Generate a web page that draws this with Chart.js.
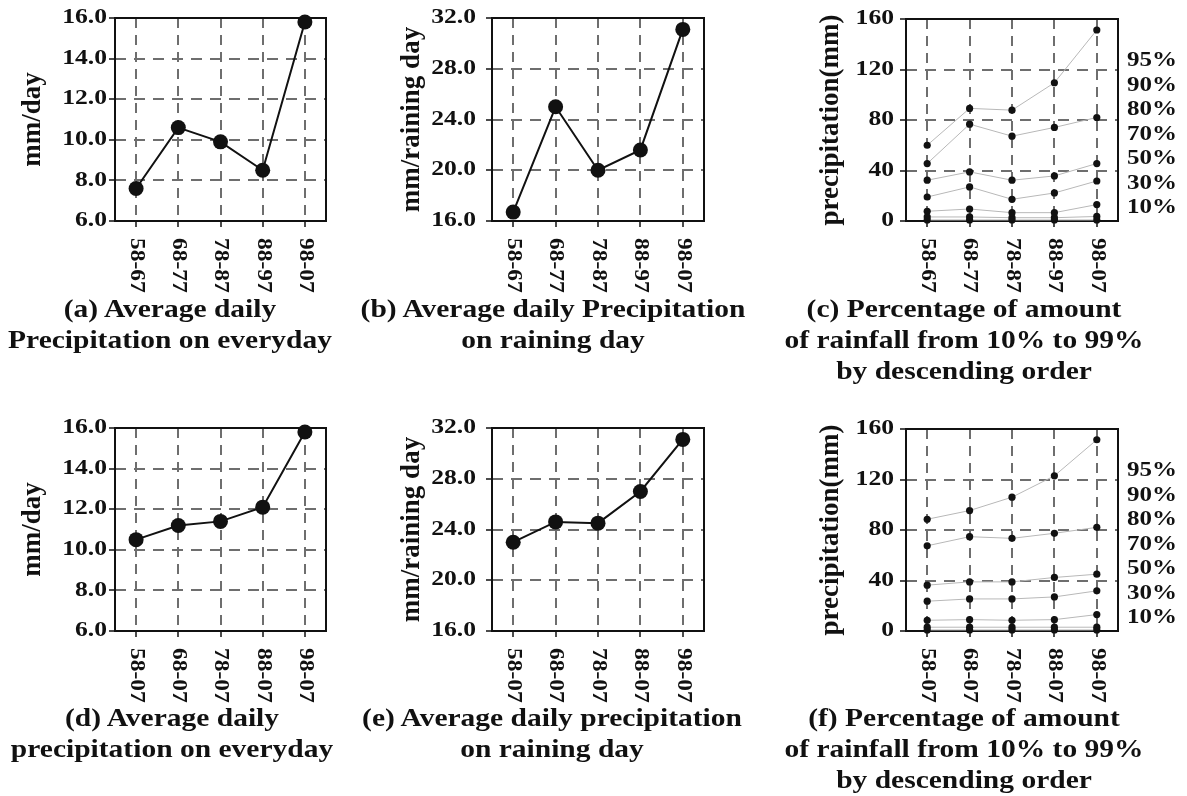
<!DOCTYPE html>
<html>
<head>
<meta charset="utf-8">
<title>Precipitation by period</title>
<script src="https://cdn.jsdelivr.net/npm/chart.js@4.4.0/dist/chart.umd.min.js"></script>
<style>
  body { margin: 0; background: #fff; }
  #page { position: relative; width: 1187px; height: 796px; overflow: hidden; font-family: "Liberation Serif", "Times New Roman", serif; }
  canvas { position: absolute; }
  .cap { position: absolute; font-weight: bold; font-size: 25px; line-height: 31px; white-space: nowrap; text-align: center; color: #111; transform: translateX(-50%) scaleX(1.18); }
</style>
</head>
<body>
<div id="page"></div>
<script>
// categories
const periodsTop = ["58-67", "68-77", "78-87", "88-97", "98-07"];
const periodsBottom = ["58-07", "68-07", "78-07", "88-07", "98-07"];
const pctLabels = ["95%", "90%", "80%", "70%", "50%", "30%", "10%"];

// (a) / (b): per decade
const dailyDecade = [7.6, 10.6, 9.9, 8.5, 15.8];
const rainDayDecade = [16.7, 25.0, 20.0, 21.6, 31.1];

// (d) / (e): from start year to 2007
const dailyCumul = [10.5, 11.2, 11.4, 12.1, 15.8];
const rainDayCumul = [23.0, 24.6, 24.5, 27.0, 31.1];

// (c) percentile amounts, per decade (top line first)
const pctDecade = [
  [60.0, 89.2, 87.8, 109.5, 151.3],
  [45.5, 76.7, 67.2, 74.1, 82.0],
  [32.3, 38.9, 32.3, 35.7, 45.5],
  [19.0, 27.0, 17.2, 22.2, 31.7],
  [7.7, 9.5, 6.6, 6.6, 13.0],
  [3.2, 3.2, 2.6, 2.6, 3.6],
  [0.8, 0.8, 0.8, 0.8, 0.8]
];

// (f) percentile amounts, cumulative periods
const pctCumul = [
  [88.5, 95.4, 106.0, 122.9, 151.5],
  [67.5, 74.7, 73.4, 77.4, 82.1],
  [36.3, 38.9, 38.9, 42.4, 45.0],
  [23.6, 25.4, 25.4, 27.0, 31.8],
  [8.5, 9.0, 8.5, 9.0, 13.0],
  [3.0, 3.0, 3.0, 3.0, 3.0],
  [0.8, 0.8, 0.8, 0.8, 0.8]
];

const SERIF = '"Liberation Serif", "Times New Roman", serif';
const GRID = "#6e6e6e";
const Y_W = 115, X_H = 80, PAD_T = 18;
const page = document.getElementById("page");

function stretchText(ctx, text, x, y, angle, align, sx, size) {
  ctx.save();
  ctx.translate(x, y);
  ctx.rotate(angle);
  ctx.scale(sx, 1);
  ctx.font = "bold " + size + "px " + SERIF;
  ctx.fillStyle = "#111";
  ctx.textAlign = align;
  ctx.textBaseline = "middle";
  ctx.fillText(text, 0, 0);
  ctx.restore();
}

function panelPlugin(p) {
  return {
    id: "panelText",
    beforeDatasetsDraw(chart) {
      const a = chart.chartArea, ctx = chart.ctx;
      ctx.save();
      ctx.strokeStyle = "#111";
      ctx.lineWidth = 2;
      ctx.strokeRect(a.left, a.top, a.right - a.left, a.bottom - a.top);
      ctx.restore();
    },
    afterDraw(chart) {
      const a = chart.chartArea, ctx = chart.ctx;
      const ys = chart.scales.y, xs = chart.scales.x;
      ys.ticks.forEach((t, i) => {
        stretchText(ctx, p.fmt(t.value), a.left - p.tickGap, ys.getPixelForTick(i), 0, "right", 1.28, 20);
      });
      p.labels.forEach((lab, i) => {
        stretchText(ctx, lab, xs.getPixelForValue(i), a.bottom + 17, Math.PI / 2, "left", 1.17, 20);
      });
      if (p.pct) {
        const h = a.bottom - a.top;
        pctLabels.forEach((lab, i) => {
          stretchText(ctx, lab, a.right + 9, a.top + h * (0.207 + i * 0.1217), 0, "left", 1.25, 20);
        });
      }
    }
  };
}

function makePanel(p) {
  const canvas = document.createElement("canvas");
  const left = p.box.l - Y_W, top = p.box.t - PAD_T;
  canvas.width = p.box.r - left + p.extraR;
  canvas.height = p.box.b - top + X_H;
  canvas.style.left = left + "px";
  canvas.style.top = top + "px";
  page.appendChild(canvas);

  const datasets = p.series.map((vals) => p.pct ? {
    data: vals,
    borderColor: "#b8b8b8",
    borderWidth: 1,
    pointRadius: 3.6,
    pointBackgroundColor: "#111",
    pointBorderColor: "#111",
    pointBorderWidth: 0,
    clip: false
  } : {
    data: vals,
    borderColor: "#111",
    borderWidth: 2,
    pointRadius: 7.5,
    pointBackgroundColor: "#111",
    pointBorderColor: "#111",
    pointBorderWidth: 0,
    clip: false
  });

  const gridOpts = { color: GRID, lineWidth: 2, tickLength: 6, tickColor: "#111", tickWidth: 1.5 };

  new Chart(canvas, {
    type: "line",
    data: { labels: p.labels, datasets: datasets },
    options: {
      responsive: false,
      animation: false,
      devicePixelRatio: 1,
      layout: { padding: { top: PAD_T, left: 0, right: p.extraR, bottom: 0 } },
      plugins: { legend: { display: false }, tooltip: { enabled: false } },
      scales: {
        x: {
          offset: true,
          grid: Object.assign({ offset: false }, gridOpts),
          border: { display: false, dash: [10, 7] },
          ticks: { display: false },
          afterFit: (s) => { s.height = X_H; }
        },
        y: {
          min: p.min,
          max: p.max,
          ticks: { display: false, stepSize: p.step },
          grid: gridOpts,
          border: { display: false, dash: [11, 8] },
          title: {
            display: true,
            text: p.title,
            color: "#111",
            font: { family: SERIF, size: 27, weight: "bold" },
            padding: { top: p.titlePad, bottom: 0 }
          },
          afterFit: (s) => { s.width = Y_W; }
        }
      }
    },
    plugins: [panelPlugin(p)]
  });
}

const one = (v) => v.toFixed(1);
const whole = (v) => String(Math.round(v));

const panels = [
  { box: { l: 115, t: 18, r: 326, b: 221 }, extraR: 10, labels: periodsTop, series: [dailyDecade],
    min: 6, max: 16, step: 2, fmt: one, title: "mm/day", titlePad: 17, tickGap: 8 },
  { box: { l: 492, t: 18, r: 704, b: 221 }, extraR: 10, labels: periodsTop, series: [rainDayDecade],
    min: 16, max: 32, step: 4, fmt: one, title: "mm/raining day", titlePad: 19, tickGap: 16 },
  { box: { l: 906, t: 19, r: 1118, b: 221 }, extraR: 69, labels: periodsTop, series: pctDecade, pct: true,
    min: 0, max: 160, step: 40, fmt: whole, title: "precipitation(mm)", titlePad: 24, tickGap: 12 },
  { box: { l: 115, t: 428, r: 326, b: 631 }, extraR: 10, labels: periodsBottom, series: [dailyCumul],
    min: 6, max: 16, step: 2, fmt: one, title: "mm/day", titlePad: 17, tickGap: 8 },
  { box: { l: 492, t: 428, r: 704, b: 631 }, extraR: 10, labels: periodsBottom, series: [rainDayCumul],
    min: 16, max: 32, step: 4, fmt: one, title: "mm/raining day", titlePad: 19, tickGap: 16 },
  { box: { l: 906, t: 429, r: 1118, b: 631 }, extraR: 69, labels: periodsBottom, series: pctCumul, pct: true,
    min: 0, max: 160, step: 40, fmt: whole, title: "precipitation(mm)", titlePad: 24, tickGap: 12 }
];
panels.forEach(makePanel);

// captions under each panel
const captions = [
  { x: 170, y: 293, html: "(a) Average daily<br>Precipitation on everyday" },
  { x: 553, y: 293, html: "(b) Average daily Precipitation<br>on raining day" },
  { x: 964, y: 293, html: "(c) Percentage of amount<br>of rainfall from 10% to 99%<br>by descending order" },
  { x: 172, y: 702, html: "(d) Average daily<br>precipitation on everyday" },
  { x: 552, y: 702, html: "(e) Average daily precipitation<br>on raining day" },
  { x: 964, y: 702, html: "(f) Percentage of amount<br>of rainfall from 10% to 99%<br>by descending order" }
];
captions.forEach((c) => {
  const d = document.createElement("div");
  d.className = "cap";
  d.style.left = c.x + "px";
  d.style.top = c.y + "px";
  d.innerHTML = c.html;
  page.appendChild(d);
});
</script>
</body>
</html>
